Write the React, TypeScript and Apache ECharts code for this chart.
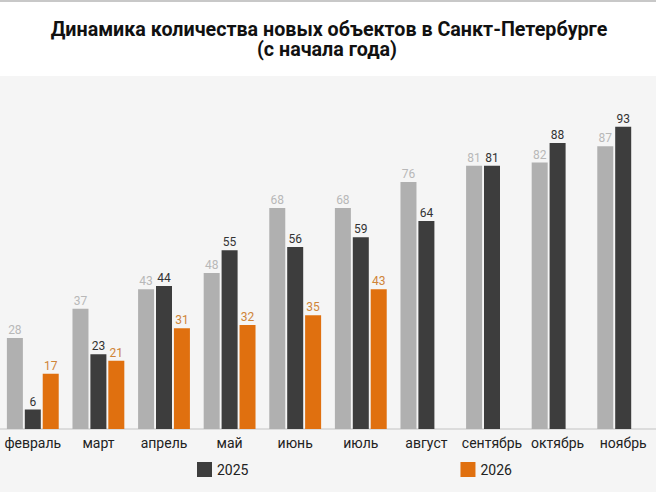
import React, { useEffect, useRef } from "react";
import * as echarts from "echarts";

const categories = ["февраль", "март", "апрель", "май", "июнь", "июль", "август", "сентябрь", "октябрь", "ноябрь"];
const values2024 = [28, 37, 43, 48, 68, 68, 76, 81, 82, 87];
const values2025 = [6, 23, 44, 55, 56, 59, 64, 81, 88, 93];
const values2026 = [17, 21, 31, 32, 35, 43, null, null, null, null];
const titleLine1 = "Динамика количества новых объектов в Санкт-Петербурге";
const titleLine2 = "(с начала года)";

export default function App() {
  const ref = useRef<HTMLDivElement>(null);
  useEffect(() => {
    if (!ref.current) return;
    const chart = echarts.init(ref.current, null, { renderer: "svg" });
    const font = "Roboto, 'Noto Sans', sans-serif";
    const titleFont = "bold 21px Roboto, 'Noto Sans', sans-serif";
    let sx = 0.85;
    try {
      const c = document.createElement("canvas").getContext("2d");
      if (c) {
        c.font = titleFont;
        const w = c.measureText(titleLine1).width;
        if (w > 0) sx = Math.min(1, 557 / w);
      }
    } catch (e) {}
    const mk = (name: string, data: (number | null)[], color: string, labelColor: string) => ({
      name,
      type: "bar",
      data,
      barWidth: 16,
      barGap: "12%",
      itemStyle: { color },
      label: {
        show: true,
        position: "top",
        distance: 2,
        fontSize: 12,
        fontFamily: font,
        color: labelColor,
      },
    });
    chart.setOption({
      animation: false,
      backgroundColor: "#f5f5f5",
      graphic: [
        { type: "rect", left: 0, top: 0, shape: { width: 656, height: 76 }, style: { fill: "#ffffff" }, z: -10 },
        { type: "rect", left: 0, top: 0, shape: { width: 656, height: 2 }, style: { fill: "#c8c8c8" }, z: -9 },
        {
          type: "text",
          x: 329,
          y: 29,
          scaleX: sx,
          style: { x: 0, y: 0, text: titleLine1, font: titleFont, fill: "#111", textAlign: "center", textVerticalAlign: "middle" },
        },
        {
          type: "text",
          x: 327,
          y: 49,
          scaleX: sx,
          style: { x: 0, y: 0, text: titleLine2, font: titleFont, fill: "#111", textAlign: "center", textVerticalAlign: "middle" },
        },
      ],
      legend: {
        data: ["2025", "2026"],
        left: 197,
        top: 462,
        padding: 0,
        itemWidth: 15,
        itemHeight: 15,
        itemGap: 212,
        icon: "rect",
        textStyle: { fontFamily: font, fontSize: 14, color: "#222" },
      },
      grid: { left: 0, right: 0, top: 104, bottom: 63 },
      xAxis: {
        type: "category",
        data: categories,
        axisLine: { lineStyle: { color: "#dcdcdc", width: 2 } },
        axisTick: { show: false },
        axisLabel: { fontFamily: font, fontSize: 14, color: "#222", margin: 7, interval: 0 },
      },
      yAxis: { type: "value", min: 0, max: 100, show: false, splitLine: { show: false } },
      series: [
        mk("2024", values2024, "#b0b0b0", "#b8b8b8"),
        mk("2025", values2025, "#3d3d3d", "#333333"),
        mk("2026", values2026, "#e0700f", "#cf8438"),
      ],
    });
    return () => chart.dispose();
  }, []);
  return <div ref={ref} style={{ position: "fixed", left: 0, top: 0, width: 656, height: 492 }} />;
}
